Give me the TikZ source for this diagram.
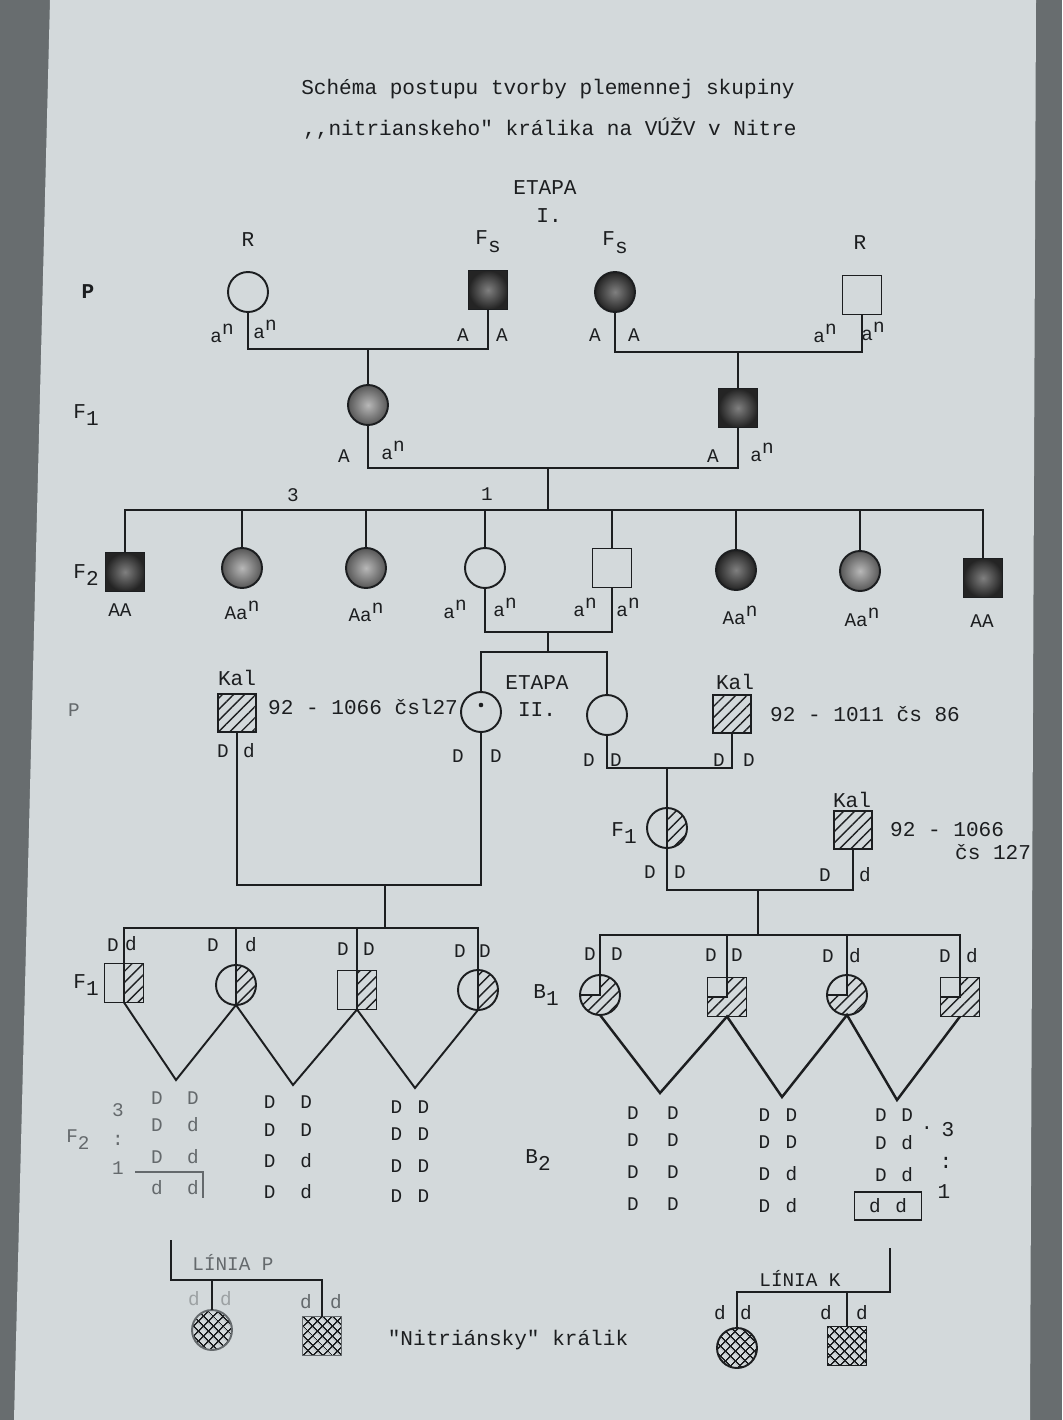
\documentclass[tikz,border=0pt]{standalone}
\usepackage{fontspec}
\usepackage{tikz}
\usetikzlibrary{patterns.meta}
\newfontfamily\tw{Liberation Mono}
\definecolor{paper}{RGB}{211,217,219}
\definecolor{edge}{RGB}{104,109,111}
\definecolor{ink}{RGB}{28,30,32}
\definecolor{fadeink}{RGB}{100,105,108}
\newcommand{\pwr}[1]{\raisebox{0.8ex}{#1}}
\newcommand{\lowix}[1]{\raisebox{-0.7ex}{#1}}
\tikzset{
  fem/.style={circle, draw=ink, line width=1.1pt, minimum size=0.8cm,
    inner sep=0pt, outer sep=0pt},
  mal/.style={rectangle, draw=ink, line width=1.1pt, minimum size=0.78cm,
    inner sep=0pt, outer sep=0pt},
  darkfill/.style={inner color=black!50, outer color=black!86},
  greyfill/.style={inner color=black!28, outer color=black!66},
  hatch/.style={pattern={Lines[angle=45, distance=4.5pt, line width=0.8pt]},
    pattern color=ink},
  xhatch/.style={pattern={Hatch[angle=45, distance=4pt, line width=0.8pt]},
    pattern color=ink},
  line/.style={line width=1.4pt, color=ink},
  vline/.style={line width=1.1pt, color=ink},
  txt/.style={font=\tw\fontsize{12}{14}\selectfont, text=ink, inner sep=1pt},
  lbl/.style={font=\tw\fontsize{11}{13}\selectfont, text=ink, inner sep=1pt},
  faint/.style={lbl, text=fadeink}
}
\begin{document}
\begin{tikzpicture}[x=0.02cm, y=-0.02cm]
  \useasboundingbox (0,0) rectangle (1062,1420);
  \fill[edge] (0,0) rectangle (1062,1420);
  \fill[paper] (50,0) -- (1036,0) -- (1030,1420) -- (14,1420) -- cycle;

  % Title
  \node[txt] (title1) at (548,89) {Schéma postupu tvorby plemennej skupiny};
  \node[txt] (title2) at (550,129) {,,nitrianskeho" králika na VÚŽV v Nitre};
  \node[txt] (etapa1) at (545,188) {ETAPA};
  \node[txt] (etapa1n) at (549,216) {I.};

  % Row labels
  \node[txt, font=\tw\bfseries\fontsize{12}{14}\selectfont] (rowp) at (88,292) {P};
  \node[txt] (rowf1) at (86,415) {F\lowix{1}};
  \node[txt] (rowf2) at (86,575) {F\lowix{2}};
  \node[faint] (rowp2) at (74,710) {P};
  \node[txt] (rowf1b) at (86,985) {F\lowix{1}};
  \node[faint] (rowf2b) at (78,1140) {F\lowix{2}};
  \node[txt] (rowb1) at (546,995) {B\lowix{1}};
  \node[txt] (rowb2) at (538,1160) {B\lowix{2}};

  % Parents, etapa I
  \node[txt] (rlab1) at (248,240) {R};
  \node[fem] (p1) at (248,292) {};
  \node[txt] (fslab1) at (488,242) {F\lowix{s}};
  \node[mal, darkfill] (p2) at (488,290) {};
  \node[txt] (fslab2) at (615,243) {F\lowix{s}};
  \node[fem, darkfill] (p3) at (615,292) {};
  \node[txt] (rlab2) at (860,243) {R};
  \node[mal] (p4) at (862,295) {};

  \node[lbl] at (222,333) {a\pwr{n}};
  \node[lbl] at (265,329) {a\pwr{n}};
  \node[lbl] at (463,335) {A};
  \node[lbl] at (502,335) {A};
  \node[lbl] at (595,335) {A};
  \node[lbl] at (634,335) {A};
  \node[lbl] at (825,333) {a\pwr{n}};
  \node[lbl] at (873,331) {a\pwr{n}};

  % F1, etapa I
  \node[fem, greyfill] (c1) at (368,405) {};
  \node[mal, darkfill] (c2) at (738,408) {};
  \coordinate (m1) at (368,349);
  \coordinate (m2) at (738,352);
  \draw[line] (p1.south) |- (m1) -| (p2.south);
  \draw[line] (m1) -- (c1.north);
  \draw[line] (p3.south) |- (m2) -| (p4.south);
  \draw[line] (m2) -- (c2.north);

  \node[lbl] at (344,456) {A};
  \node[lbl] at (393,450) {a\pwr{n}};
  \node[lbl] at (713,456) {A};
  \node[lbl] at (762,452) {a\pwr{n}};

  % F2, etapa I
  \node[mal, darkfill] (g1) at (125,572) {};
  \node[fem, greyfill] (g2) at (242,568) {};
  \node[fem, greyfill] (g3) at (366,568) {};
  \node[fem] (g4) at (485,568) {};
  \node[mal] (g5) at (612,568) {};
  \node[fem, darkfill] (g6) at (736,570) {};
  \node[fem, greyfill] (g7) at (860,571) {};
  \node[mal, darkfill] (g8) at (983,578) {};
  \coordinate (m3) at (548,468);
  \coordinate (s0) at (548,510);
  \draw[line] (c1.south) |- (m3) -| (c2.south);
  \draw[line] (m3) -- (s0);
  \draw[line] (g1.north) |- (s0) -| (g8.north);
  \draw[line] (g2.north) -- (g2.north |- s0);
  \draw[line] (g3.north) -- (g3.north |- s0);
  \draw[line] (g4.north) -- (g4.north |- s0);
  \draw[line] (g5.north) -- (g5.north |- s0);
  \draw[line] (g6.north) -- (g6.north |- s0);
  \draw[line] (g7.north) -- (g7.north |- s0);

  \node[lbl] at (293,495) {3};
  \node[lbl] at (487,494) {1};
  \node[lbl] at (120,610) {AA};
  \node[lbl] at (242,610) {Aa\pwr{n}};
  \node[lbl] at (366,612) {Aa\pwr{n}};
  \node[lbl] at (455,609) {a\pwr{n}};
  \node[lbl] at (505,607) {a\pwr{n}};
  \node[lbl] at (585,607) {a\pwr{n}};
  \node[lbl] at (628,607) {a\pwr{n}};
  \node[lbl] at (740,615) {Aa\pwr{n}};
  \node[lbl] at (862,617) {Aa\pwr{n}};
  \node[lbl] at (982,621) {AA};

  % Etapa II
  \node[fem] (e1) at (481,712) {};
  \node[fem] (e2) at (607,715) {};
  \fill[ink] (e1.center) ++(0,-7) circle[radius=1.3pt];
  \coordinate (m4) at (548,632);
  \coordinate (m5) at (548,652);
  \draw[line] (g4.south) |- (m4) -| (g5.south);
  \draw[line] (m4) -- (m5);
  \draw[line] (e1.north) |- (m5) -| (e2.north);
  \node[txt] (etapa2) at (537,683) {ETAPA};
  \node[txt] (etapa2n) at (537,710) {II.};

  \node[txt] (kallab1) at (237,678) {Kal};
  \node[mal, hatch, minimum size=0.76cm] (k1) at (237,713) {};
  \node[txt, anchor=west] (k1txt) at (266,707) {92 - 1066 čsl27};
  \node[txt] (kallab2) at (735,682) {Kal};
  \node[mal, hatch, minimum size=0.76cm] (k2) at (732,714) {};
  \node[txt, anchor=west] (k2txt) at (768,714) {92 - 1011 čs 86};

  \coordinate (m6) at (385,885);
  \coordinate (m7) at (385,928);
  \draw[line] (k1.south) |- (m6) -| (e1.south);
  \draw[line] (m6) -- (m7);
  \node[lbl] at (223,751) {D};
  \node[lbl] at (249,751) {d};
  \node[lbl] at (458,756) {D};
  \node[lbl] at (496,756) {D};

  \node[fem] (h1) at (667,828) {};
  \fill[hatch] (h1.north) arc[start angle=90, end angle=-90, radius=0.4cm] -- cycle;
  \draw[vline] (h1.north) -- (h1.south);
  \node[txt] (h1lab) at (624,833) {F\lowix{1}};
  \coordinate (m8) at (667,768);
  \draw[line] (e2.south) |- (m8) -| (k2.south);
  \draw[line] (m8) -- (h1.north);
  \node[lbl] at (589,760) {D};
  \node[lbl] at (616,760) {D};
  \node[lbl] at (719,760) {D};
  \node[lbl] at (749,760) {D};

  \node[txt] (kallab3) at (852,800) {Kal};
  \node[mal, hatch, minimum size=0.76cm] (k3) at (853,830) {};
  \node[txt, anchor=west] (k3txt) at (888,830) {92 - 1066};
  \node[txt, anchor=west] (k3txtb) at (953,852) {čs 127};
  \coordinate (m9) at (758,890);
  \coordinate (m10) at (758,935);
  \draw[line] (h1.south) |- (m9) -| (k3.south);
  \draw[line] (m9) -- (m10);
  \node[lbl] at (650,872) {D};
  \node[lbl] at (680,872) {D};
  \node[lbl] at (825,875) {D};
  \node[lbl] at (865,875) {d};

  % F1, etapa II (left)
  \node[mal] (q1) at (124,983) {};
  \node[fem] (q2) at (236,985) {};
  \node[mal] (q3) at (357,990) {};
  \node[fem] (q4) at (478,990) {};
  \fill[hatch] (q1.north) rectangle (q1.south east);
  \fill[hatch] (q3.north) rectangle (q3.south east);
  \fill[hatch] (q2.north) arc[start angle=90, end angle=-90, radius=0.4cm] -- cycle;
  \fill[hatch] (q4.north) arc[start angle=90, end angle=-90, radius=0.4cm] -- cycle;
  \draw[line] (q1.north) |- (m7) -| (q4.north);
  \draw[line] (q2.north) -- (q2.north |- m7);
  \draw[line] (q3.north) -- (q3.north |- m7);
  \foreach \q in {q1,q2,q3,q4} \draw[vline] (\q.north) -- (\q.south);
  \coordinate (v1) at (176,1080);
  \coordinate (v2) at (293,1085);
  \coordinate (v3) at (415,1088);
  \draw[vline] (q1.south) -- (v1) -- (q2.south) -- (v2) -- (q3.south) -- (v3) -- (q4.south);
  \node[lbl] at (113,945) {D};
  \node[lbl] at (131,944) {d};
  \node[lbl] at (213,945) {D};
  \node[lbl] at (251,945) {d};
  \node[lbl] at (343,949) {D};
  \node[lbl] at (369,949) {D};
  \node[lbl] at (460,951) {D};
  \node[lbl] at (485,951) {D};

  % F2, etapa II (left)
  \node[faint] at (118,1110) {3};
  \node[faint] at (118,1140) {:};
  \node[faint] at (118,1168) {1};
  \node[faint] at (175,1098) {D\hspace{0.49cm}D};
  \node[faint] at (175,1125) {D\hspace{0.49cm}d};
  \node[faint] at (175,1157) {D\hspace{0.49cm}d};
  \node[faint] (ddp) at (175,1188) {d\hspace{0.49cm}d};
  \draw[vline, fadeink] (135,1172) -- (203,1172) -- (203,1198);
  \node[lbl] at (288,1102) {D\hspace{0.5cm}D};
  \node[lbl] at (288,1130) {D\hspace{0.5cm}D};
  \node[lbl] at (288,1161) {D\hspace{0.5cm}d};
  \node[lbl] at (288,1192) {D\hspace{0.5cm}d};
  \node[lbl] at (410,1107) {D\hspace{0.31cm}D};
  \node[lbl] at (410,1134) {D\hspace{0.31cm}D};
  \node[lbl] at (410,1166) {D\hspace{0.31cm}D};
  \node[lbl] at (410,1196) {D\hspace{0.31cm}D};

  % B1 (right)
  \node[fem] (b1) at (600,995) {};
  \node[mal] (b2) at (727,997) {};
  \node[fem] (b3) at (847,995) {};
  \node[mal] (b4) at (960,997) {};
  \fill[hatch] (b1.north) arc[start angle=90, end angle=-180, radius=0.4cm] -- (b1.center) -- cycle;
  \fill[hatch] (b3.north) arc[start angle=90, end angle=-180, radius=0.4cm] -- (b3.center) -- cycle;
  \fill[hatch] (b2.north) -- (b2.north east) -- (b2.south east) -- (b2.south west) -- (b2.west) -- (b2.center) -- cycle;
  \fill[hatch] (b4.north) -- (b4.north east) -- (b4.south east) -- (b4.south west) -- (b4.west) -- (b4.center) -- cycle;
  \foreach \b in {b1,b2,b3,b4} \draw[vline] (\b.north) -- (\b.center) -- (\b.west);
  \draw[line] (b1.north) |- (m10) -| (b4.north);
  \draw[line] (b2.north) -- (b2.north |- m10);
  \draw[line] (b3.north) -- (b3.north |- m10);
  \coordinate (w1) at (660,1093);
  \coordinate (w2) at (782,1097);
  \coordinate (w3) at (897,1100);
  \draw[line] (b1.south) -- (w1) -- (b2.south) -- (w2) -- (b3.south) -- (w3) -- (b4.south);
  \node[lbl] at (590,954) {D};
  \node[lbl] at (617,954) {D};
  \node[lbl] at (711,955) {D};
  \node[lbl] at (737,955) {D};
  \node[lbl] at (828,956) {D};
  \node[lbl] at (855,956) {d};
  \node[lbl] at (945,956) {D};
  \node[lbl] at (972,956) {d};

  % B2 (right)
  \node[lbl] at (653,1113) {D\hspace{0.57cm}D};
  \node[lbl] at (653,1140) {D\hspace{0.57cm}D};
  \node[lbl] at (653,1172) {D\hspace{0.57cm}D};
  \node[lbl] at (653,1204) {D\hspace{0.57cm}D};
  \node[lbl] at (778,1115) {D\hspace{0.31cm}D};
  \node[lbl] at (778,1142) {D\hspace{0.31cm}D};
  \node[lbl] at (778,1174) {D\hspace{0.31cm}d};
  \node[lbl] at (778,1206) {D\hspace{0.31cm}d};
  \node[lbl] at (894,1115) {D\hspace{0.29cm}D};
  \node[lbl] at (894,1143) {D\hspace{0.29cm}d};
  \node[lbl] at (894,1175) {D\hspace{0.29cm}d};
  \node[lbl, draw=ink, line width=1.1pt, minimum width=1.34cm, minimum height=0.56cm]
    (ddk) at (888,1206) {d\hspace{0.29cm}d};
  \node[lbl] at (927,1128) {.};
  \node[txt] at (948,1130) {3};
  \node[txt] at (946,1163) {:};
  \node[txt] at (944,1192) {1};

  % Linia P
  \coordinate (lptop) at (171,1240);
  \coordinate (lpmid) at (171,1280);
  \node[fem, xhatch, draw=fadeink] (lpci) at (212,1330) {};
  \node[mal, xhatch, draw=fadeink] (lpsq) at (322,1336) {};
  \draw[vline] (lptop) -- (lpmid) -| (lpsq.north);
  \draw[vline] (lpci.north) -- (lpci.north |- lpmid);
  \node[faint] (linp) at (233,1262) {LÍNIA P};
  \node[faint, text=fadeink!50!paper] at (194,1299) {d};
  \node[faint, text=fadeink!50!paper] at (226,1299) {d};
  \node[faint] at (306,1302) {d};
  \node[faint] at (336,1302) {d};

  % Linia K
  \coordinate (lktop) at (890,1248);
  \coordinate (lkmid) at (890,1292);
  \node[fem, xhatch] (lkci) at (737,1348) {};
  \node[mal, xhatch] (lksq) at (847,1346) {};
  \draw[vline] (lktop) -- (lkmid) -| (lkci.north);
  \draw[vline] (lksq.north) -- (lksq.north |- lkmid);
  \node[lbl] (link) at (800,1278) {LÍNIA K};
  \node[lbl] at (720,1313) {d};
  \node[lbl] at (746,1313) {d};
  \node[lbl] at (826,1313) {d};
  \node[lbl] at (862,1313) {d};

  \node[txt] (breed) at (508,1340) {"Nitriánsky" králik};
\end{tikzpicture}
\end{document}
